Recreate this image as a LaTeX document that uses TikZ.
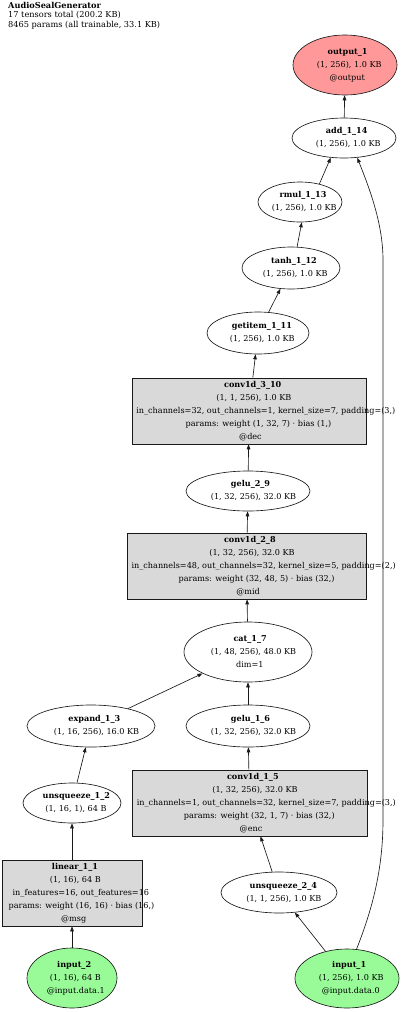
\documentclass[tikz,border=0pt]{standalone}
\usepackage{fontspec}
\setmainfont{DejaVu Serif}
\usetikzlibrary{shapes.geometric,arrows.meta}
\definecolor{outred}{RGB}{255,153,153}
\definecolor{ingreen}{RGB}{152,251,152}
\definecolor{boxgray}{RGB}{217,217,217}
\definecolor{edgec}{RGB}{25,25,25}
\newlength\shlw
\newcommand\shln[1]{\settowidth{\shlw}{#1}\makebox[0pt]{\hspace{0.13\shlw}#1}}
\begin{document}
\begin{tikzpicture}[x=1pt,y=-1pt,
  ell/.style={draw=edgec, line width=0.65pt, ellipse, inner sep=0pt},
  opbox/.style={draw=edgec, line width=0.65pt, rectangle, fill=boxgray, inner sep=0pt},
  txt/.style={align=center, inner sep=0pt, font=\fontsize{8.1}{13}\selectfont, text=black},
  arr/.style={draw=edgec, line width=0.65pt, -{Triangle[length=5pt,width=3.6pt]}}]
\useasboundingbox (0,0) rectangle (400,1012);

% title
\node[anchor=north west, align=left, inner sep=0pt, font=\fontsize{8.2}{9.2}\selectfont] (title) at (8,2.3)
  {\textbf{AudioSealGenerator}\\17 tensors total (200.2 KB)\\8465 params (all trainable, 33.1 KB)};

% shapes
\node[ell, fill=outred, minimum width=104pt, minimum height=60pt] (output) at (345,65) {};
\node[ell, fill=white, minimum width=104pt, minimum height=40pt] (add) at (344,138) {};
\node[ell, fill=white, minimum width=84pt, minimum height=40pt] (rmul) at (300,202) {};
\node[ell, fill=white, minimum width=98pt, minimum height=42pt] (tanh) at (291,268) {};
\node[ell, fill=white, minimum width=102pt, minimum height=42pt] (getitem) at (258,333) {};
\node[opbox, minimum width=234pt, minimum height=66pt] (conv3) at (249,411) {};
\node[ell, fill=white, minimum width=124pt, minimum height=40pt] (gelu29) at (248,491) {};
\node[opbox, minimum width=239pt, minimum height=66pt] (conv2) at (246.5,566) {};
\node[ell, fill=white, minimum width=128pt, minimum height=60pt] (cat) at (248,652) {};
\node[ell, fill=white, minimum width=128pt, minimum height=42pt] (expand) at (91,726) {};
\node[ell, fill=white, minimum width=124pt, minimum height=42pt] (gelu16) at (248,726) {};
\node[ell, fill=white, minimum width=98pt, minimum height=40pt] (unsq12) at (72,803) {};
\node[opbox, minimum width=235pt, minimum height=66pt] (conv1) at (249.5,803) {};
\node[opbox, minimum width=140pt, minimum height=66pt] (linear) at (72,893) {};
\node[ell, fill=white, minimum width=116pt, minimum height=41pt] (unsq24) at (279,892.5) {};
\node[ell, fill=ingreen, minimum width=90pt, minimum height=60pt] (input2) at (72,978) {};
\node[ell, fill=ingreen, minimum width=104pt, minimum height=59pt] (input1) at (347,978.5) {};

% texts
\node[txt] (output-t) at (output) {\shln{\textbf{output\_1}}\\\shln{(1, 256), 1.0 KB}\\\shln{@output}};
\node[txt] (add-t) at (add) {\shln{\textbf{add\_1\_14}}\\\shln{(1, 256), 1.0 KB}};
\node[txt] (rmul-t) at (rmul) {\shln{\textbf{rmul\_1\_13}}\\\shln{(1, 256), 1.0 KB}};
\node[txt] (tanh-t) at (tanh) {\shln{\textbf{tanh\_1\_12}}\\\shln{(1, 256), 1.0 KB}};
\node[txt] (getitem-t) at (getitem) {\shln{\textbf{getitem\_1\_11}}\\\shln{(1, 256), 1.0 KB}};
\node[txt] (conv3-t) at (conv3) {\shln{\textbf{conv1d\_3\_10}}\\\shln{(1, 1, 256), 1.0 KB}\\\shln{in\_channels=32, out\_channels=1, kernel\_size=7, padding=(3,)}\\\shln{params: weight (1, 32, 7) · bias (1,)}\\\shln{@dec}};
\node[txt] (gelu29-t) at (gelu29) {\shln{\textbf{gelu\_2\_9}}\\\shln{(1, 32, 256), 32.0 KB}};
\node[txt] (conv2-t) at (conv2) {\shln{\textbf{conv1d\_2\_8}}\\\shln{(1, 32, 256), 32.0 KB}\\\shln{in\_channels=48, out\_channels=32, kernel\_size=5, padding=(2,)}\\\shln{params: weight (32, 48, 5) · bias (32,)}\\\shln{@mid}};
\node[txt] (cat-t) at (cat) {\shln{\textbf{cat\_1\_7}}\\\shln{(1, 48, 256), 48.0 KB}\\\shln{dim=1}};
\node[txt] (expand-t) at (expand) {\shln{\textbf{expand\_1\_3}}\\\shln{(1, 16, 256), 16.0 KB}};
\node[txt] (gelu16-t) at (gelu16) {\shln{\textbf{gelu\_1\_6}}\\\shln{(1, 32, 256), 32.0 KB}};
\node[txt] (unsq12-t) at (unsq12) {\shln{\textbf{unsqueeze\_1\_2}}\\\shln{(1, 16, 1), 64 B}};
\node[txt] (conv1-t) at (conv1) {\shln{\textbf{conv1d\_1\_5}}\\\shln{(1, 32, 256), 32.0 KB}\\\shln{in\_channels=1, out\_channels=32, kernel\_size=7, padding=(3,)}\\\shln{params: weight (32, 1, 7) · bias (32,)}\\\shln{@enc}};
\node[txt] (linear-t) at (linear) {\shln{\textbf{linear\_1\_1}}\\\shln{(1, 16), 64 B}\\\shln{in\_features=16, out\_features=16}\\\shln{params: weight (16, 16) · bias (16,)}\\\shln{@msg}};
\node[txt] (unsq24-t) at (unsq24) {\shln{\textbf{unsqueeze\_2\_4}}\\\shln{(1, 1, 256), 1.0 KB}};
\node[txt] (input2-t) at (input2) {\shln{\textbf{input\_2}}\\\shln{(1, 16), 64 B}\\\shln{@input.data.1}};
\node[txt] (input1-t) at (input1) {\shln{\textbf{input\_1}}\\\shln{(1, 256), 1.0 KB}\\\shln{@input.data.0}};

% edges
\draw[arr] (input2) -- (linear);
\draw[arr] (linear.north) -- (unsq12.south);
\draw[arr] (unsq12) -- (expand);
\draw[arr] (expand) -- (cat);
\draw[arr] (input1) -- (unsq24);
\draw[arr] (unsq24) -- (conv1);
\draw[arr] (conv1) -- (gelu16);
\draw[arr] (gelu16) -- (cat);
\draw[arr] (cat) -- (conv2);
\draw[arr] (conv2) -- (gelu29);
\draw[arr] (gelu29) -- (conv3);
\draw[arr] (conv3) -- (getitem);
\draw[arr] (getitem) -- (tanh);
\draw[arr] (tanh.74) -- (rmul.-85);
\draw[arr] (rmul.43) -- (add.-124);
\draw[arr] (add) -- (output);
\draw[arr] (input1.72) .. controls (372,910) and (383,870) .. (383,820)
  -- (383,260) .. controls (383,222) and (368,185) .. (add.-56);
\end{tikzpicture}
\end{document}
